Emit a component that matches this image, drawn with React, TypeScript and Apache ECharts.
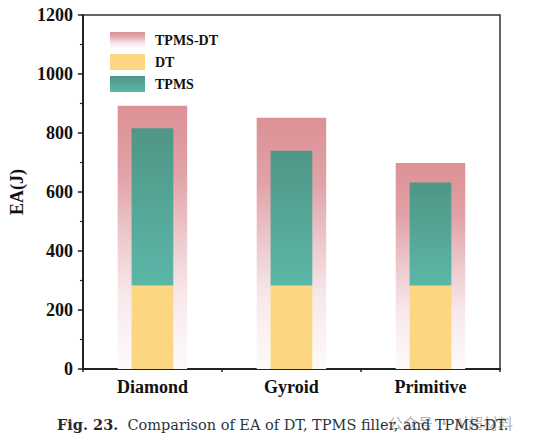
import React, { useEffect, useRef } from "react";
import * as echarts from "echarts";

// Energy absorption (J) per TPMS lattice type
const categories = ["Diamond", "Gyroid", "Primitive"];
const tpmsDtValues = [892, 852, 698]; // combined TPMS-DT structure
const dtValues = [283, 283, 283]; // DT alone
const tpmsTotalValues = [816, 740, 632]; // DT + TPMS filler (top of the teal segment)
const tpmsValues = tpmsTotalValues.map((v, i) => v - dtValues[i]);
const yTicks = { min: 0, max: 1200, interval: 200 };

const serif = "'Liberation Serif', 'Times New Roman', serif";

export default function App() {
  const ref = useRef<HTMLDivElement>(null);

  useEffect(() => {
    if (!ref.current) return;
    const chart = echarts.init(ref.current, null, { renderer: "svg" });

    const pinkFade = new echarts.graphic.LinearGradient(0, 0, 0, 1, [
      { offset: 0, color: "#dc9196" },
      { offset: 0.25, color: "#e1a1a6" },
      { offset: 0.5, color: "#ecc9cd" },
      { offset: 0.72, color: "#f8e9eb" },
      { offset: 1, color: "#fdfafa" },
    ]);
    const teal = new echarts.graphic.LinearGradient(0, 0, 0, 1, [
      { offset: 0, color: "#4f9686" },
      { offset: 1, color: "#5bb7a8" },
    ]);

    chart.setOption({
      animation: false,
      grid: {
        left: 80,
        right: 45,
        top: 15,
        bottom: 74,
        show: true,
        borderColor: "#333",
        borderWidth: 1.5,
        backgroundColor: "transparent",
      },
      legend: {
        data: ["TPMS-DT", "DT", "TPMS"],
        orient: "vertical",
        left: 105,
        top: 27,
        itemWidth: 35,
        itemHeight: 16,
        itemGap: 6,
        icon: "rect",
        textStyle: {
          fontFamily: serif,
          fontWeight: "bold",
          fontSize: 14,
          color: "#111",
          padding: [0, 0, 0, 5],
        },
      },
      xAxis: [
        {
          type: "category",
          data: categories,
          axisLine: { lineStyle: { color: "#222", width: 2 } },
          axisTick: { alignWithLabel: true, length: 5, lineStyle: { width: 1.5, color: "#222" } },
          axisLabel: {
            fontFamily: serif,
            fontWeight: "bold",
            fontSize: 18,
            color: "#111",
            margin: 9,
          },
        },
        {
          type: "category",
          data: categories,
          position: "bottom",
          show: false,
        },
        {
          // short ticks at the category boundaries
          type: "value",
          min: 0,
          max: 3,
          interval: 1,
          position: "bottom",
          axisLine: { show: false },
          axisLabel: { show: false },
          splitLine: { show: false },
          axisTick: { show: true, length: 3, lineStyle: { width: 1.5, color: "#222" } },
        },
      ],
      yAxis: {
        type: "value",
        min: yTicks.min,
        max: yTicks.max,
        interval: yTicks.interval,
        name: "EA(J)",
        nameLocation: "middle",
        nameGap: 52,
        nameTextStyle: { fontFamily: serif, fontWeight: "bold", fontSize: 18, color: "#111" },
        axisLine: { show: true, lineStyle: { color: "#222", width: 2 } },
        axisTick: { show: true, length: 5, lineStyle: { width: 1.5, color: "#222" } },
        minorTick: { show: true, splitNumber: 2, length: 3, lineStyle: { width: 1.2, color: "#222" } },
        splitLine: { show: false },
        axisLabel: {
          fontFamily: serif,
          fontWeight: "bold",
          fontSize: 18,
          color: "#111",
          margin: 10,
          formatter: (v: number) => String(v),
        },
      },
      series: [
        {
          name: "TPMS-DT",
          type: "bar",
          xAxisIndex: 1,
          barWidth: "50%",
          data: tpmsDtValues,
          itemStyle: { color: pinkFade },
          z: 1,
        },
        {
          name: "DT",
          type: "bar",
          xAxisIndex: 0,
          stack: "parts",
          barWidth: "30%",
          data: dtValues,
          itemStyle: { color: "#fdd681" },
          z: 2,
        },
        {
          name: "TPMS",
          type: "bar",
          xAxisIndex: 0,
          stack: "parts",
          barWidth: "30%",
          data: tpmsValues,
          itemStyle: { color: teal },
          z: 2,
        },
      ],
      graphic: [
        {
          type: "text",
          right: 32,
          top: 415,
          z: 1,
          style: {
            text: "公众号 · Ai超材料",
            font: "15px 'Noto Sans CJK SC', sans-serif",
            fill: "rgba(160,160,160,0.8)",
          },
        },
        {
          type: "text",
          left: 57,
          top: 417,
          z: 2,
          style: {
            text: "{b|Fig. 23.}  Comparison of EA of DT, TPMS filler, and TPMS-DT.",
            font: "14.5px 'DejaVu Serif', serif",
            fill: "#2b3440",
            rich: {
              b: { font: "bold 14.5px 'DejaVu Serif', serif", fill: "#1f2a38" },
            },
          },
        },
      ],
    });

    return () => chart.dispose();
  }, []);

  return (
    <div
      ref={ref}
      style={{ position: "fixed", left: 0, top: 0, width: 545, height: 443, background: "#fff" }}
    />
  );
}
